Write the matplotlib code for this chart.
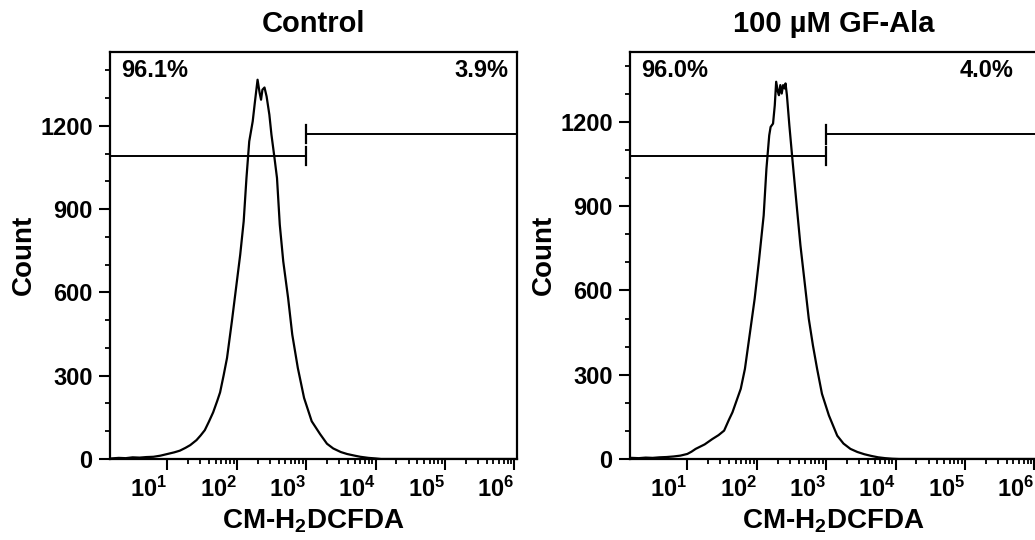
import matplotlib.pyplot as plt
import numpy as np
from matplotlib.ticker import FixedLocator, MultipleLocator

plt.rcParams['font.family'] = 'Liberation Sans'
plt.rcParams['font.weight'] = 'bold'
plt.rcParams['mathtext.fontset'] = 'custom'
plt.rcParams['mathtext.rm'] = 'Liberation Sans:bold'
plt.rcParams['mathtext.bf'] = 'Liberation Sans:bold'
plt.rcParams['mathtext.it'] = 'Liberation Sans:bold:italic'

# histogram traces: log10(intensity), count
ctrl_log = [0.19, 0.30, 0.40, 0.50, 0.60, 0.70, 0.80, 0.90, 1.00, 1.10, 1.18, 1.26,
            1.33, 1.42, 1.48, 1.54, 1.60, 1.66, 1.72, 1.76, 1.81, 1.86, 1.93, 1.99,
            2.05, 2.10, 2.14, 2.18, 2.23, 2.26, 2.30, 2.33, 2.35, 2.37, 2.40, 2.43,
            2.47, 2.50, 2.54, 2.58, 2.62, 2.67, 2.74, 2.80, 2.88, 2.97, 3.08, 3.20,
            3.30, 3.39, 3.50, 3.59, 3.70, 3.78, 3.90, 4.00, 4.08, 6.00]
ctrl_count = [2, 4, 3, 6, 5, 7, 8, 12, 18, 24, 30, 40,
              50, 68, 85, 104, 135, 168, 210, 240, 300, 364, 496, 616,
              736, 856, 1012, 1144, 1216, 1282, 1366, 1318, 1294, 1330, 1338, 1306,
              1240, 1168, 1092, 1012, 844, 712, 580, 448, 328, 220, 136, 90,
              55, 38, 25, 18, 12, 8, 4, 2, 0, 0]

gf_log = [0.20, 0.30, 0.40, 0.50, 0.60, 0.70, 0.80, 0.90, 1.00, 1.06, 1.12, 1.25, 1.36,
          1.45, 1.53, 1.60, 1.65, 1.72, 1.77, 1.83, 1.91, 1.97, 2.03, 2.10, 2.14,
          2.18, 2.20, 2.235, 2.26, 2.28, 2.305, 2.32, 2.34, 2.36, 2.38, 2.40, 2.415,
          2.435, 2.47, 2.51, 2.54, 2.58, 2.63, 2.69, 2.75, 2.81, 2.87, 2.94, 3.04,
          3.16, 3.25, 3.35, 3.45, 3.55, 3.65, 3.75, 3.85, 3.95, 4.05, 6.00]
gf_count = [4, 3, 5, 4, 6, 7, 9, 12, 18, 26, 36, 52, 71,
            85, 101, 140, 166, 215, 250, 321, 463, 570, 701, 867, 1034,
            1152, 1182, 1194, 1259, 1343, 1307, 1295, 1331, 1301, 1331, 1319, 1337,
            1295, 1188, 1078, 998, 891, 760, 630, 499, 404, 321, 232, 155,
            83, 55, 36, 25, 17, 11, 6, 3, 1, 0, 0]

titles = ['Control', '100 µM GF-Ala']
left_pct = ['96.1%', '96.0%']
right_pct = ['3.9%', '4.0%']
gate_x = 1000
gate_low = [1092, 1078]
gate_high = [1170, 1156]
ymax = [1467, 1450]
yticks = [0, 300, 600, 900, 1200]
xticks = [1e1, 1e2, 1e3, 1e4, 1e5, 1e6]
xticklabels = [r'$10^{1}$', r'$10^{2}$', r'$10^{3}$', r'$10^{4}$', r'$10^{5}$', r'$10^{6}$']
xminor = [k * 10.0**n for n in range(1, 6) for k in range(2, 10)]

fig = plt.figure(figsize=(10.35, 5.4), dpi=100)
ax1 = fig.add_axes([0.1063, 0.15, 0.393, 0.7543])
ax2 = fig.add_axes([0.6087, 0.15, 0.393, 0.7543])

xlo, xhi = 10**0.174, 10**6.035
series = [(ctrl_log, ctrl_count), (gf_log, gf_count)]
rpct_x = [0.979, 0.942]

for i, ax in enumerate([ax1, ax2]):
    lg, cnt = series[i]
    ax.plot(10**np.array(lg), cnt, color='black', lw=1.6)
    ax.set_xscale('log')
    ax.set_xlim(xlo, xhi)
    ax.set_ylim(0, ymax[i])

    # gates
    ax.plot([xlo, gate_x], [gate_low[i], gate_low[i]], color='black', lw=1.4)
    ax.plot([gate_x, xhi], [gate_high[i], gate_high[i]], color='black', lw=1.4)
    ax.plot([gate_x, gate_x], [gate_low[i] - 33, gate_low[i] + 33], color='black', lw=1.6)
    ax.plot([gate_x, gate_x], [gate_high[i] - 33, gate_high[i] + 33], color='black', lw=1.6)

    ax.set_xticks(xticks)
    ax.set_xticklabels(xticklabels)
    for lab in ax.get_xticklabels():
        lab.set_ha('right')
    ax.xaxis.set_minor_locator(FixedLocator(xminor))
    ax.set_yticks(yticks)
    ax.yaxis.set_minor_locator(MultipleLocator(100))

    ax.tick_params(which='major', length=8, width=1.5, labelsize=17, pad=4.5)
    ax.tick_params(which='minor', length=3.8, width=1.3)
    for sp in ax.spines.values():
        sp.set_linewidth(1.6)

    ax.text(0.027, 0.939, left_pct[i], transform=ax.transAxes, fontsize=17,
            ha='left', va='baseline')
    ax.text(rpct_x[i], 0.939, right_pct[i], transform=ax.transAxes, fontsize=17,
            ha='right', va='baseline')

    ax.set_title(titles[i], fontsize=21, fontweight='bold', pad=14)
    ax.set_xlabel('CM-H$_2$DCFDA', fontsize=20, fontweight='bold')
    ax.set_ylabel('Count', fontsize=20, fontweight='bold')
    ax.xaxis.set_label_coords(0.5, -0.12)
    ax.yaxis.set_label_coords(-0.18, 0.5)

plt.savefig('out.png', dpi=100)
